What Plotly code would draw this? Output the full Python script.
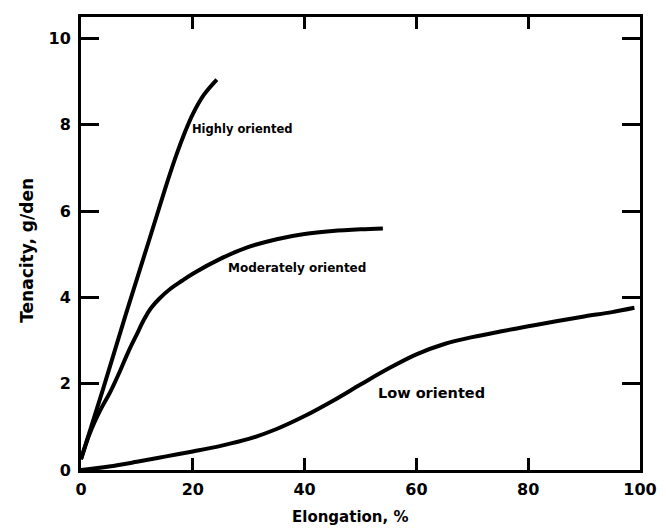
import plotly.graph_objects as go

# Data
high_x = [0, 4, 8, 12, 15, 17, 18.5, 20, 22, 24.3]
high_y = [0.25, 1.9, 3.6, 5.25, 6.5, 7.28, 7.8, 8.25, 8.7, 9.05]

mod_x = [0, 1.6, 3.5, 5.2, 7, 8.5, 10, 11.2, 12.5, 14, 16, 18, 20, 25, 30, 35, 40, 45, 50, 54]
mod_y = [0.25, 0.86, 1.4, 1.8, 2.3, 2.75, 3.15, 3.47, 3.75, 3.97, 4.2, 4.38, 4.55, 4.9, 5.17,
         5.35, 5.47, 5.54, 5.58, 5.6]

low_x = [0, 5, 10, 15, 20, 25, 30, 35, 40, 45, 50, 55, 60, 65, 70, 75, 80, 85, 90, 95, 99]
low_y = [0, 0.08, 0.19, 0.31, 0.43, 0.56, 0.72, 0.95, 1.25, 1.6, 1.98, 2.35, 2.68, 2.92, 3.08,
         3.21, 3.33, 3.45, 3.56, 3.66, 3.76]

labels = ["Highly oriented", "Moderately oriented", "Low oriented"]
label_x = [19.5, 26, 52.8]
label_y = [7.9, 4.68, 1.78]
label_size = [11.5, 12, 14.5]

x_ticks = [0, 20, 40, 60, 80, 100]
y_ticks = [0, 2, 4, 6, 8, 10]

x_title = "Elongation, %"
y_title = "Tenacity, g/den"

FONT = "DejaVu Sans"

fig = go.Figure()
for xs, ys in [(high_x, high_y), (mod_x, mod_y), (low_x, low_y)]:
    fig.add_trace(go.Scatter(x=xs, y=ys, mode="lines",
                             line=dict(color="black", width=4, shape="spline", smoothing=1.0),
                             showlegend=False, hoverinfo="skip"))

for t, lx, ly, fs in zip(labels, label_x, label_y, label_size):
    fig.add_annotation(x=lx, y=ly, text=t, showarrow=False, xanchor="left", yanchor="middle",
                       font=dict(family=FONT, size=fs, color="black", weight="bold"))

# axis titles placed as annotations for exact positioning
fig.add_annotation(xref="x", yref="paper", x=48.2, y=-0.104, text=x_title, showarrow=False,
                   xanchor="center", yanchor="middle",
                   font=dict(family=FONT, size=15, color="black", weight="bold"))
fig.add_annotation(xref="paper", yref="y", x=-0.097, y=5.1, text=y_title, showarrow=False,
                   textangle=-90, xanchor="center", yanchor="middle",
                   font=dict(family=FONT, size=17, color="black", weight="bold"))

# page body has an 8px default margin, so the figure is sized to fit the window
fig.update_layout(
    width=658, height=523,
    margin=dict(l=73, r=26, t=9, b=61),
    paper_bgcolor="white", plot_bgcolor="white",
    font=dict(family=FONT, color="black"),
)
fig.update_xaxes(range=[0, 100], tickvals=x_ticks, ticktext=[str(v) for v in x_ticks],
                 ticks="inside", ticklen=12, tickwidth=3, tickcolor="black",
                 showline=True, linewidth=3, linecolor="black", mirror="ticks",
                 showgrid=False, zeroline=False, automargin=False, ticklabelstandoff=3,
                 tickfont=dict(size=16, weight="bold"))
fig.update_yaxes(range=[0, 10.5], tickvals=y_ticks, ticktext=[str(v) for v in y_ticks],
                 ticks="inside", ticklen=18, tickwidth=3, tickcolor="black",
                 showline=True, linewidth=3, linecolor="black", mirror="ticks",
                 showgrid=False, zeroline=False, automargin=False, ticklabelstandoff=4,
                 tickfont=dict(size=16, weight="bold"))

fig.write_html("out.html")
